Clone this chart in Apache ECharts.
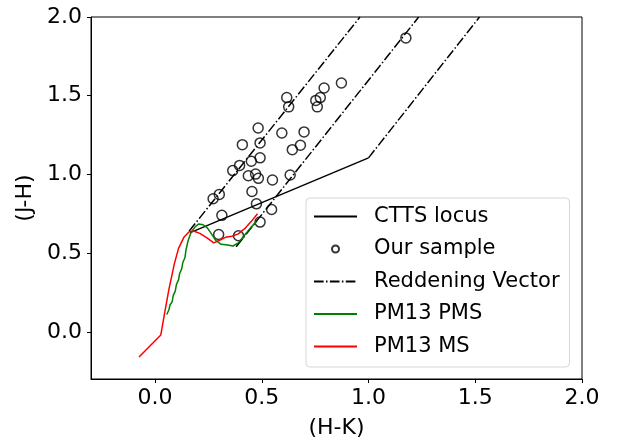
<!DOCTYPE html>
<html>
<head>
<meta charset="utf-8">
<script src="https://cdn.jsdelivr.net/npm/echarts@6/dist/echarts.min.js"></script>
<style>html,body{margin:0;padding:0;background:#fff}#c{width:620px;height:438px}</style>
</head>
<body>
<div id="c"></div>
<script>
// ---- data ----
const xTicks = [0.0, 0.5, 1.0, 1.5, 2.0];
const yTicks = [0.0, 0.5, 1.0, 1.5, 2.0];

const cttsLocus = [[0.165, 0.63], [1.0, 1.105]];

const sampleHK = [1.175, 0.873, 0.792, 0.774, 0.753, 0.760, 0.617, 0.626, 0.483, 0.594, 0.698,
  0.409, 0.492, 0.681, 0.643, 0.451, 0.492, 0.396, 0.364, 0.471, 0.437, 0.484, 0.550, 0.633,
  0.454, 0.301, 0.272, 0.475, 0.546, 0.313, 0.492, 0.298, 0.391];
const sampleJH = [1.867, 1.581, 1.549, 1.488, 1.470, 1.429, 1.488, 1.429, 1.295, 1.263, 1.270,
  1.189, 1.200, 1.185, 1.157, 1.084, 1.105, 1.057, 1.024, 1.002, 0.991, 0.975, 0.964, 0.996,
  0.891, 0.873, 0.845, 0.813, 0.777, 0.740, 0.697, 0.618, 0.610];

const redVec1 = [[0.16, 0.64], [0.96, 2.0]];
const redVec2 = [[0.38, 0.54], [1.235, 2.0]];
const redVec3 = [[1.0, 1.105], [1.52, 2.0]];

const pmsHK = [0.055, 0.065, 0.07, 0.08, 0.085, 0.095, 0.10, 0.11, 0.115, 0.125, 0.13, 0.14, 0.145, 0.155, 0.17, 0.19, 0.205, 0.225, 0.245, 0.265, 0.285, 0.31, 0.34, 0.365, 0.39, 0.42, 0.45, 0.475];
const pmsJH = [0.11, 0.14, 0.17, 0.19, 0.23, 0.26, 0.30, 0.33, 0.37, 0.40, 0.44, 0.47, 0.52, 0.58, 0.635, 0.67, 0.685, 0.68, 0.66, 0.62, 0.58, 0.556, 0.552, 0.545, 0.565, 0.615, 0.665, 0.70];

const msHK = [-0.075, 0.027, 0.045, 0.065, 0.09, 0.11, 0.135, 0.16, 0.18, 0.21, 0.245, 0.275, 0.30, 0.33, 0.36, 0.39, 0.42, 0.45, 0.48];
const msJH = [-0.16, -0.02, 0.12, 0.27, 0.43, 0.53, 0.60, 0.635, 0.64, 0.625, 0.595, 0.565, 0.58, 0.60, 0.607, 0.622, 0.655, 0.70, 0.75];

// ---- build ----
const zip = (a, b) => a.map((v, i) => [v, b[i]]);
const dashDot = [9.6, 2.4, 1.5, 2.4];
const font = 'DejaVu Sans';
const noSym = {opacity: 0};

const chart = echarts.init(document.getElementById('c'), null, {renderer: 'canvas'});
const redStyle = {color: '#000', width: 1.5, type: dashDot};
chart.setOption({
  animation: false,
  textStyle: {fontFamily: font},
  grid: {left: 91, right: 38, top: 17, bottom: 59, show: true, borderColor: '#000', borderWidth: 1,
    backgroundColor: 'transparent', containLabel: false, outerBoundsMode: 'none'},
  xAxis: {
    type: 'value', min: -0.3, max: 2.0,
    name: '(H-K)', nameLocation: 'middle', nameGap: 38,
    nameTextStyle: {fontSize: 22, color: '#000', fontFamily: font},
    axisLine: {show: true, onZero: false, lineStyle: {color: '#000', width: 1}},
    axisTick: {show: true, inside: false, length: 4, lineStyle: {color: '#000'}, customValues: xTicks},
    axisLabel: {fontSize: 22, color: '#000', margin: 8, fontFamily: font, customValues: xTicks, formatter: v => v.toFixed(1)},
    splitLine: {show: false}
  },
  yAxis: {
    type: 'value', min: -0.3, max: 2.0,
    name: '(J-H)', nameLocation: 'middle', nameGap: 50,
    nameTextStyle: {fontSize: 22, color: '#000', fontFamily: font},
    axisLine: {show: true, onZero: false, lineStyle: {color: '#000', width: 1}},
    axisTick: {show: true, inside: false, length: 4, lineStyle: {color: '#000'}, customValues: yTicks},
    axisLabel: {fontSize: 22, color: '#000', margin: 9, fontFamily: font, customValues: yTicks, formatter: v => v.toFixed(1)},
    splitLine: {show: false}
  },
  legend: {
    orient: 'vertical', left: 306, top: 198,
    padding: [8, 10, 10, 7],
    itemWidth: 43, itemHeight: 7, itemGap: 11.5,
    backgroundColor: '#fff', borderColor: '#d6d6d6', borderWidth: 1, borderRadius: 4,
    textStyle: {fontSize: 21, color: '#000', fontFamily: font, lineHeight: 21, padding: [0, 0, 0, 12]},
    data: [
      {name: 'CTTS locus', itemStyle: noSym},
      {name: 'Our sample'},
      {name: 'Reddening Vector', itemStyle: noSym},
      {name: 'PM13 PMS', itemStyle: noSym},
      {name: 'PM13 MS', itemStyle: noSym}
    ]
  },
  series: [
    {name: 'CTTS locus', type: 'line', data: cttsLocus, symbol: 'none', lineStyle: {color: '#000', width: 1.5}, itemStyle: {color: '#000'}, z: 2},
    {name: 'Our sample', type: 'scatter', data: zip(sampleHK, sampleJH), symbol: 'circle', symbolSize: 10,
      itemStyle: {color: 'rgba(0,0,0,0)', borderColor: '#000', borderWidth: 1.5}, z: 3},
    {name: 'Reddening Vector', type: 'line', data: redVec1, symbol: 'none', lineStyle: redStyle, itemStyle: {color: '#000'}, z: 4},
    {name: 'Reddening Vector', type: 'line', data: redVec2, symbol: 'none', lineStyle: redStyle, itemStyle: {color: '#000'}, z: 4},
    {name: 'Reddening Vector', type: 'line', data: redVec3, symbol: 'none', lineStyle: redStyle, itemStyle: {color: '#000'}, z: 4},
    {name: 'PM13 PMS', type: 'line', data: zip(pmsHK, pmsJH), symbol: 'none', lineStyle: {color: '#008000', width: 1.5}, itemStyle: {color: '#008000'}, z: 5},
    {name: 'PM13 MS', type: 'line', data: zip(msHK, msJH), symbol: 'none', lineStyle: {color: '#ff0000', width: 1.5}, itemStyle: {color: '#ff0000'}, z: 6}
  ]
});
</script>
</body>
</html>
